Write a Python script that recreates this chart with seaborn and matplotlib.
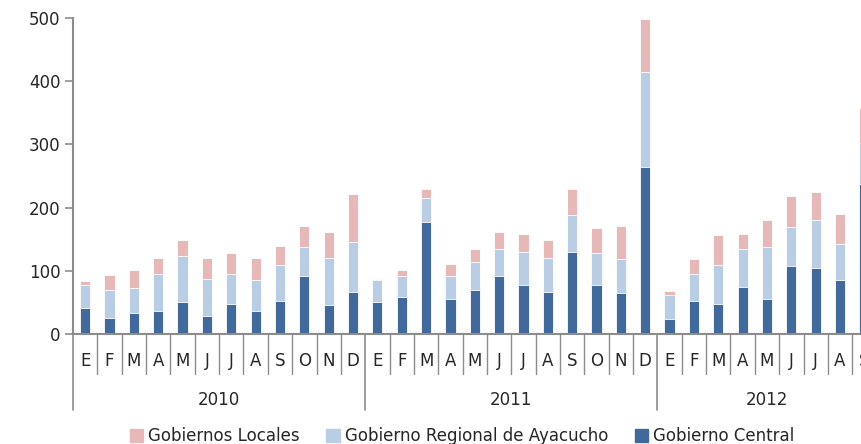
import numpy as np
import pandas as pd
import seaborn as sns
import matplotlib.pyplot as plt
import matplotlib.transforms as mtransforms
from matplotlib.patches import Patch

# values (stack tops), split into the three series
years = ["2010", "2011", "2012"]
months = ["E", "F", "M", "A", "M", "J", "J", "A", "S", "O", "N", "D"]
n_months = [12, 12, 9]

central = [41, 26, 34, 36, 51, 29, 48, 36, 53, 91, 46, 67,
           51, 58, 178, 55, 70, 91, 77, 67, 130, 77, 65, 265,
           24, 53, 48, 75, 55, 108, 104, 86, 237]
regional = [36, 44, 39, 59, 72, 58, 47, 49, 56, 46, 75, 78,
            35, 34, 37, 37, 44, 44, 53, 54, 58, 51, 53, 149,
            37, 42, 61, 60, 82, 61, 76, 56, 66]
locales = [7, 24, 29, 26, 26, 34, 33, 36, 30, 34, 41, 77,
           1, 10, 14, 19, 21, 27, 29, 28, 41, 40, 53, 84,
           7, 23, 47, 24, 44, 50, 44, 48, 55]

c_central = "#41699c"
c_regional = "#b9cde5"
c_locales = "#e6b9b8"

labels = []
month_lbl = []
for y, n in zip(years, n_months):
    for m in months[:n]:
        labels.append(f"{y}-{len(labels)}")
        month_lbl.append(m)

df = pd.DataFrame({"cat": labels, "central": central,
                   "regional": regional, "locales": locales})
df["reg_top"] = df["central"] + df["regional"]
df["loc_top"] = df["reg_top"] + df["locales"]

sns.set_style("white")
plt.rcParams["font.family"] = ["Liberation Sans Narrow", "DejaVu Sans"]

fig = plt.figure(figsize=(8.61, 4.44), dpi=100)
W, H = 861, 444
ncat = len(labels)
cw = 24.35
ax = fig.add_axes([73 / W, 110 / H, ncat * cw / W, 316 / H])

bw = 0.42
sns.barplot(data=df, x="cat", y="loc_top", color=c_locales, width=bw,
            saturation=1, ax=ax, order=labels, edgecolor="white", linewidth=0.6)
sns.barplot(data=df, x="cat", y="reg_top", color=c_regional, width=bw,
            saturation=1, ax=ax, order=labels, edgecolor="white", linewidth=0.6)
sns.barplot(data=df, x="cat", y="central", color=c_central, width=bw,
            saturation=1, ax=ax, order=labels, edgecolor="white", linewidth=0.6)

ax.set_xlim(-0.5, ncat - 0.5)
ax.set_ylim(0, 500)
ax.set_yticks([0, 100, 200, 300, 400, 500])
ax.tick_params(axis="y", direction="out", length=6, width=1.2, color="#8c8c8c",
               labelsize=12, pad=3, left=True)
ax.set_xticks([])
ax.set_xlabel("")
ax.set_ylabel("")
for s in ["top", "right"]:
    ax.spines[s].set_visible(False)
for s in ["left", "bottom"]:
    ax.spines[s].set_color("#8c8c8c")
    ax.spines[s].set_linewidth(1.5)

# multi-level category axis
trans = mtransforms.blended_transform_factory(ax.transData, ax.transAxes)
px = 1 / 316
year_start = np.cumsum([0] + n_months)
for i in range(ncat + 1):
    is_year = i in year_start
    ln = 76 if is_year else 40
    ax.plot([i - 0.5, i - 0.5], [0, -ln * px], transform=trans, clip_on=False,
            color="#8c8c8c", lw=1.2 if is_year else 1.0)
for i, m in enumerate(month_lbl):
    ax.text(i, -27 * px, m, transform=trans, ha="center", va="center", fontsize=12)
for k, y in enumerate(years):
    mid = (year_start[k] + year_start[k + 1] - 1) / 2
    ax.text(mid, -66 * px, y, transform=trans, ha="center", va="center", fontsize=12)

handles = [Patch(color=c_locales, label="Gobiernos Locales"),
           Patch(color=c_regional, label="Gobierno Regional de Ayacucho"),
           Patch(color=c_central, label="Gobierno Central")]
fig.legend(handles=handles, loc="center", bbox_to_anchor=(462 / W, 1 - 436 / H),
           ncol=3, frameon=False, fontsize=12, handlelength=0.8, handleheight=0.8,
           handletextpad=0.3, columnspacing=1.6)

fig.savefig("out.png", dpi=100)
